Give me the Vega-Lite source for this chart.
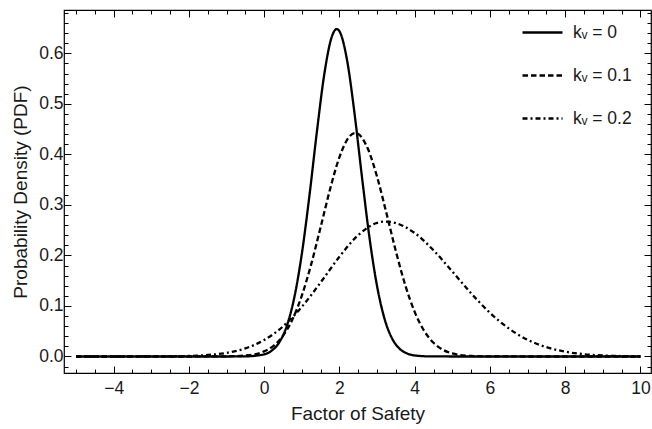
{
  "$schema": "https://vega.github.io/schema/vega-lite/v6.json",
  "width": 587,
  "height": 363,
  "autosize": {"type": "none"},
  "padding": {"left": 64, "top": 10, "right": 1, "bottom": 56},
  "background": "white",
  "config": {
    "font": "Liberation Sans",
    "view": {"stroke": "black", "strokeWidth": 1.2},
    "axis": {"grid": false, "domain": false, "tickColor": "black", "tickWidth": 1, "labelColor": "#1a1a1a", "titleColor": "#1a1a1a", "labelFontSize": 17.5, "titleFontSize": 19, "titleFontWeight": "normal"}
  },
  "datasets": {
    "curves": [
      {"series": "kᵥ = 0", "x": -5, "y": 0},
      {"series": "kᵥ = 0", "x": -1, "y": 0},
      {"series": "kᵥ = 0", "x": -0.5, "y": 0.0002},
      {"series": "kᵥ = 0", "x": 0, "y": 0.0043},
      {"series": "kᵥ = 0", "x": 0.2, "y": 0.0116},
      {"series": "kᵥ = 0", "x": 0.4, "y": 0.0279},
      {"series": "kᵥ = 0", "x": 0.6, "y": 0.0601},
      {"series": "kᵥ = 0", "x": 0.8, "y": 0.1165},
      {"series": "kᵥ = 0", "x": 1.0, "y": 0.2027},
      {"series": "kᵥ = 0", "x": 1.2, "y": 0.3167},
      {"series": "kᵥ = 0", "x": 1.4, "y": 0.4443},
      {"series": "kᵥ = 0", "x": 1.6, "y": 0.5598},
      {"series": "kᵥ = 0", "x": 1.8, "y": 0.6335},
      {"series": "kᵥ = 0", "x": 1.93, "y": 0.648},
      {"series": "kᵥ = 0", "x": 2.0, "y": 0.6437},
      {"series": "kᵥ = 0", "x": 2.2, "y": 0.5875},
      {"series": "kᵥ = 0", "x": 2.4, "y": 0.4816},
      {"series": "kᵥ = 0", "x": 2.6, "y": 0.3545},
      {"series": "kᵥ = 0", "x": 2.8, "y": 0.2344},
      {"series": "kᵥ = 0", "x": 3.0, "y": 0.1391},
      {"series": "kᵥ = 0", "x": 3.2, "y": 0.0742},
      {"series": "kᵥ = 0", "x": 3.4, "y": 0.0355},
      {"series": "kᵥ = 0", "x": 3.6, "y": 0.0153},
      {"series": "kᵥ = 0", "x": 3.8, "y": 0.0059},
      {"series": "kᵥ = 0", "x": 4.0, "y": 0.0020},
      {"series": "kᵥ = 0", "x": 4.4, "y": 0.0002},
      {"series": "kᵥ = 0", "x": 5, "y": 0},
      {"series": "kᵥ = 0", "x": 10, "y": 0},
      {"series": "kᵥ = 0.1", "x": -5, "y": 0},
      {"series": "kᵥ = 0.1", "x": -2, "y": 0},
      {"series": "kᵥ = 0.1", "x": -1, "y": 0.0002},
      {"series": "kᵥ = 0.1", "x": -0.5, "y": 0.0018},
      {"series": "kᵥ = 0.1", "x": 0, "y": 0.0101},
      {"series": "kᵥ = 0.1", "x": 0.25, "y": 0.0211},
      {"series": "kᵥ = 0.1", "x": 0.5, "y": 0.0410},
      {"series": "kᵥ = 0.1", "x": 0.75, "y": 0.0730},
      {"series": "kᵥ = 0.1", "x": 1.0, "y": 0.1203},
      {"series": "kᵥ = 0.1", "x": 1.25, "y": 0.1827},
      {"series": "kᵥ = 0.1", "x": 1.5, "y": 0.2559},
      {"series": "kᵥ = 0.1", "x": 1.75, "y": 0.3307},
      {"series": "kᵥ = 0.1", "x": 2.0, "y": 0.3945},
      {"series": "kᵥ = 0.1", "x": 2.25, "y": 0.4338},
      {"series": "kᵥ = 0.1", "x": 2.42, "y": 0.442},
      {"series": "kᵥ = 0.1", "x": 2.5, "y": 0.4402},
      {"series": "kᵥ = 0.1", "x": 2.75, "y": 0.4120},
      {"series": "kᵥ = 0.1", "x": 3.0, "y": 0.3557},
      {"series": "kᵥ = 0.1", "x": 3.25, "y": 0.2833},
      {"series": "kᵥ = 0.1", "x": 3.5, "y": 0.2082},
      {"series": "kᵥ = 0.1", "x": 3.75, "y": 0.1410},
      {"series": "kᵥ = 0.1", "x": 4.0, "y": 0.0882},
      {"series": "kᵥ = 0.1", "x": 4.25, "y": 0.0509},
      {"series": "kᵥ = 0.1", "x": 4.5, "y": 0.0271},
      {"series": "kᵥ = 0.1", "x": 4.75, "y": 0.0133},
      {"series": "kᵥ = 0.1", "x": 5.0, "y": 0.0060},
      {"series": "kᵥ = 0.1", "x": 5.5, "y": 0.0010},
      {"series": "kᵥ = 0.1", "x": 6.0, "y": 0.0001},
      {"series": "kᵥ = 0.1", "x": 7, "y": 0},
      {"series": "kᵥ = 0.1", "x": 10, "y": 0},
      {"series": "kᵥ = 0.2", "x": -5, "y": 0},
      {"series": "kᵥ = 0.2", "x": -4, "y": 0},
      {"series": "kᵥ = 0.2", "x": -3, "y": 0.0001},
      {"series": "kᵥ = 0.2", "x": -2.5, "y": 0.0004},
      {"series": "kᵥ = 0.2", "x": -2, "y": 0.0011},
      {"series": "kᵥ = 0.2", "x": -1.5, "y": 0.0029},
      {"series": "kᵥ = 0.2", "x": -1, "y": 0.0072},
      {"series": "kᵥ = 0.2", "x": -0.5, "y": 0.0161},
      {"series": "kᵥ = 0.2", "x": 0, "y": 0.0326},
      {"series": "kᵥ = 0.2", "x": 0.5, "y": 0.0595},
      {"series": "kᵥ = 0.2", "x": 1.0, "y": 0.0983},
      {"series": "kᵥ = 0.2", "x": 1.5, "y": 0.1465},
      {"series": "kᵥ = 0.2", "x": 2.0, "y": 0.1974},
      {"series": "kᵥ = 0.2", "x": 2.5, "y": 0.2403},
      {"series": "kᵥ = 0.2", "x": 3.0, "y": 0.2644},
      {"series": "kᵥ = 0.2", "x": 3.22, "y": 0.267},
      {"series": "kᵥ = 0.2", "x": 3.5, "y": 0.2640},
      {"series": "kᵥ = 0.2", "x": 4.0, "y": 0.2443},
      {"series": "kᵥ = 0.2", "x": 4.5, "y": 0.2102},
      {"series": "kᵥ = 0.2", "x": 5.0, "y": 0.1681},
      {"series": "kᵥ = 0.2", "x": 5.5, "y": 0.1250},
      {"series": "kᵥ = 0.2", "x": 6.0, "y": 0.0864},
      {"series": "kᵥ = 0.2", "x": 6.5, "y": 0.0555},
      {"series": "kᵥ = 0.2", "x": 7.0, "y": 0.0331},
      {"series": "kᵥ = 0.2", "x": 7.5, "y": 0.0184},
      {"series": "kᵥ = 0.2", "x": 8.0, "y": 0.0095},
      {"series": "kᵥ = 0.2", "x": 8.5, "y": 0.0045},
      {"series": "kᵥ = 0.2", "x": 9.0, "y": 0.0020},
      {"series": "kᵥ = 0.2", "x": 9.5, "y": 0.0008},
      {"series": "kᵥ = 0.2", "x": 10, "y": 0.0003}
    ]
  },
  "data": {"name": "curves"},
  "layer": [
    {
      "mark": {"type": "line", "interpolate": "monotone", "strokeWidth": 2.3, "color": "black"},
      "encoding": {
        "x": {
          "field": "x", "type": "quantitative",
          "scale": {"domain": [-5.32, 10.28], "nice": false, "zero": false},
          "axis": {
            "orient": "bottom",
            "values": [-5,-4.5,-4,-3.5,-3,-2.5,-2,-1.5,-1,-0.5,0,0.5,1,1.5,2,2.5,3,3.5,4,4.5,5,5.5,6,6.5,7,7.5,8,8.5,9,9.5,10],
            "format": ".0f",
            "labelExpr": "datum.value % 2 === 0 ? datum.label : ''",
            "tickSize": {"condition": {"test": "datum.value % 2 === 0", "value": -7}, "value": -4},
            "labelPadding": 13.4,
            "title": "Factor of Safety",
            "titlePadding": 8
          }
        },
        "y": {
          "field": "y", "type": "quantitative",
          "scale": {"domain": [-0.0327, 0.6857], "nice": false, "zero": false},
          "axis": {
            "orient": "left",
            "values": [-0.02,0,0.02,0.04,0.06,0.08,0.1,0.12,0.14,0.16,0.18,0.2,0.22,0.24,0.26,0.28,0.3,0.32,0.34,0.36,0.38,0.4,0.42,0.44,0.46,0.48,0.5,0.52,0.54,0.56,0.58,0.6,0.62,0.64,0.66,0.68],
            "labelExpr": "abs(datum.value * 10 - round(datum.value * 10)) < 0.001 ? format(datum.value, '.1f') : ''",
            "tickSize": {"condition": {"test": "abs(datum.value * 10 - round(datum.value * 10)) < 0.001", "value": -7}, "value": -4},
            "labelPadding": 8,
            "title": "Probability Density (PDF)",
            "titlePadding": 8
          }
        },
        "strokeDash": {
          "field": "series", "type": "nominal",
          "scale": {"domain": ["kᵥ = 0", "kᵥ = 0.1", "kᵥ = 0.2"], "range": [[1, 0], [5.5, 3], [5, 3, 2, 3]]},
          "legend": {
            "orient": "none", "legendX": 457, "legendY": 1, "title": null,
            "symbolType": "stroke", "symbolSize": 1600, "symbolStrokeWidth": 2.3, "symbolStrokeColor": "black",
            "labelFontSize": 17.5, "labelOffset": 9, "rowPadding": 13, "labelColor": "#1a1a1a", "labelFont": "Liberation Sans"
          }
        }
      }
    },
    {
      "mark": {"type": "point", "opacity": 0},
      "encoding": {
        "x": {
          "field": "x", "type": "quantitative",
          "axis": {
            "orient": "top",
            "values": [-5,-4.5,-4,-3.5,-3,-2.5,-2,-1.5,-1,-0.5,0,0.5,1,1.5,2,2.5,3,3.5,4,4.5,5,5.5,6,6.5,7,7.5,8,8.5,9,9.5,10],
            "labels": false,
            "tickSize": {"condition": {"test": "datum.value % 2 === 0", "value": -7}, "value": -4},
            "title": null
          }
        },
        "y": {
          "field": "y", "type": "quantitative",
          "axis": {
            "orient": "right",
            "values": [-0.02,0,0.02,0.04,0.06,0.08,0.1,0.12,0.14,0.16,0.18,0.2,0.22,0.24,0.26,0.28,0.3,0.32,0.34,0.36,0.38,0.4,0.42,0.44,0.46,0.48,0.5,0.52,0.54,0.56,0.58,0.6,0.62,0.64,0.66,0.68],
            "labels": false,
            "tickSize": {"condition": {"test": "abs(datum.value * 10 - round(datum.value * 10)) < 0.001", "value": -7}, "value": -4},
            "title": null
          }
        }
      }
    }
  ],
  "resolve": {"axis": {"x": "independent", "y": "independent"}}
}
